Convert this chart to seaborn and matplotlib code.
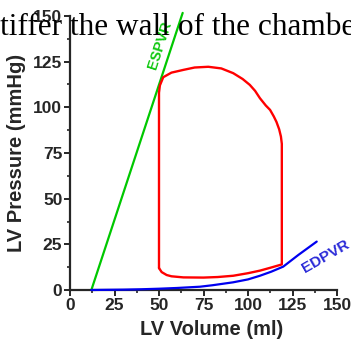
import numpy as np
import pandas as pd
import matplotlib
matplotlib.use("Agg")
import matplotlib.pyplot as plt
import seaborn as sns

# PV loop (clockwise, starting bottom-left)
loop_vol = [50, 50, 50.5, 52.4, 57, 63.7, 70, 77.7, 85, 91.7, 97, 101, 104, 106.7,
            110, 112.4, 114.5, 116, 117.5, 118.5, 119, 119, 113, 106.7, 100, 91.7,
            83, 75, 63.7, 57, 54.3, 51.5, 50]
loop_pres = [12, 108, 112, 116.5, 119, 120.5, 121.8, 122.2, 121.3, 118.7, 115.5, 112.3,
             109, 105, 101, 98.6, 95, 92, 88, 84, 80, 14, 12.3, 10.6, 9.2, 7.8,
             7.1, 6.8, 6.9, 7.5, 8.2, 9.8, 12]

# end-diastolic pressure-volume relation
edpvr_vol = [12, 20, 30, 40, 50, 60, 73, 80, 91.6, 100, 106.7, 113, 119.8, 128.3, 138.6]
edpvr_pres = [0, 0.1, 0.2, 0.4, 0.7, 1.1, 1.8, 2.6, 4.2, 5.8, 7.8, 10, 12.8, 19.2, 26.5]

# end-systolic pressure-volume relation
espvr_vol = [12, 63.3]
espvr_pres = [0, 151.7]

x_ticks = [0, 25, 50, 75, 100, 125, 150]
y_ticks = [0, 25, 50, 75, 100, 125, 150]

sns.set_style("ticks")
plt.rcParams["font.family"] = ["Liberation Sans", "DejaVu Sans"]
plt.rcParams["font.weight"] = "bold"

fig = plt.figure(figsize=(3.51, 3.39), dpi=100)
ax = fig.add_axes([70 / 351, 1 - 290 / 339, 267 / 351, 274 / 339])

# background page text
fig.text(-12 / 351, 1 - 35 / 339, "stiffer the wall of the chamber",
         family=["Liberation Serif", "DejaVu Serif"], fontsize=22.5,
         fontweight="normal", color="black", ha="left", va="baseline")

loop_df = pd.DataFrame({"vol": loop_vol, "pres": loop_pres})
ed_df = pd.DataFrame({"vol": edpvr_vol, "pres": edpvr_pres})
es_df = pd.DataFrame({"vol": espvr_vol, "pres": espvr_pres})

sns.lineplot(data=es_df, x="vol", y="pres", sort=False, estimator=None,
             color="#00c800", lw=1.6, ax=ax, clip_on=False)
sns.lineplot(data=ed_df, x="vol", y="pres", sort=False, estimator=None,
             color="#0000f0", lw=1.6, ax=ax, clip_on=False, zorder=4)
sns.lineplot(data=loop_df, x="vol", y="pres", sort=False, estimator=None,
             color="#ff0000", lw=1.7, ax=ax, zorder=5)

ax.text(50.3, 134, "ESPVR", color="#10c810", fontsize=10.5, fontweight="bold",
        rotation=72, ha="center", va="center")
ax.text(143.5, 18.3, "EDPVR", color="#2a2ad8", fontsize=11, fontweight="bold",
        rotation=30, ha="center", va="center")

ax.set_xlim(0, 150)
ax.set_ylim(0, 150)
ax.set_xticks(x_ticks)
ax.set_yticks(y_ticks)
ax.set_xticks(np.arange(12.5, 150, 25), minor=True)
ax.set_yticks(np.arange(12.5, 150, 25), minor=True)
ax.set_xticklabels([str(t) for t in x_ticks], fontsize=12.5, fontweight="bold")
ax.set_yticklabels([str(t) for t in y_ticks], fontsize=12.5, fontweight="bold")
ax.tick_params(which="major", length=4, width=1.4, pad=1.5)
ax.tick_params(which="minor", length=2.5, width=1.2)

ax.set_xlabel("LV Volume (ml)", fontsize=14.5, fontweight="bold")
ax.set_ylabel("LV Pressure (mmHg)", fontsize=14.5, fontweight="bold", labelpad=5)
ax.xaxis.set_label_coords(0.53, -0.11)

sns.despine(ax=ax)
for s in ["left", "bottom"]:
    ax.spines[s].set_linewidth(1.6)

fig.savefig("out.png", dpi=100)
